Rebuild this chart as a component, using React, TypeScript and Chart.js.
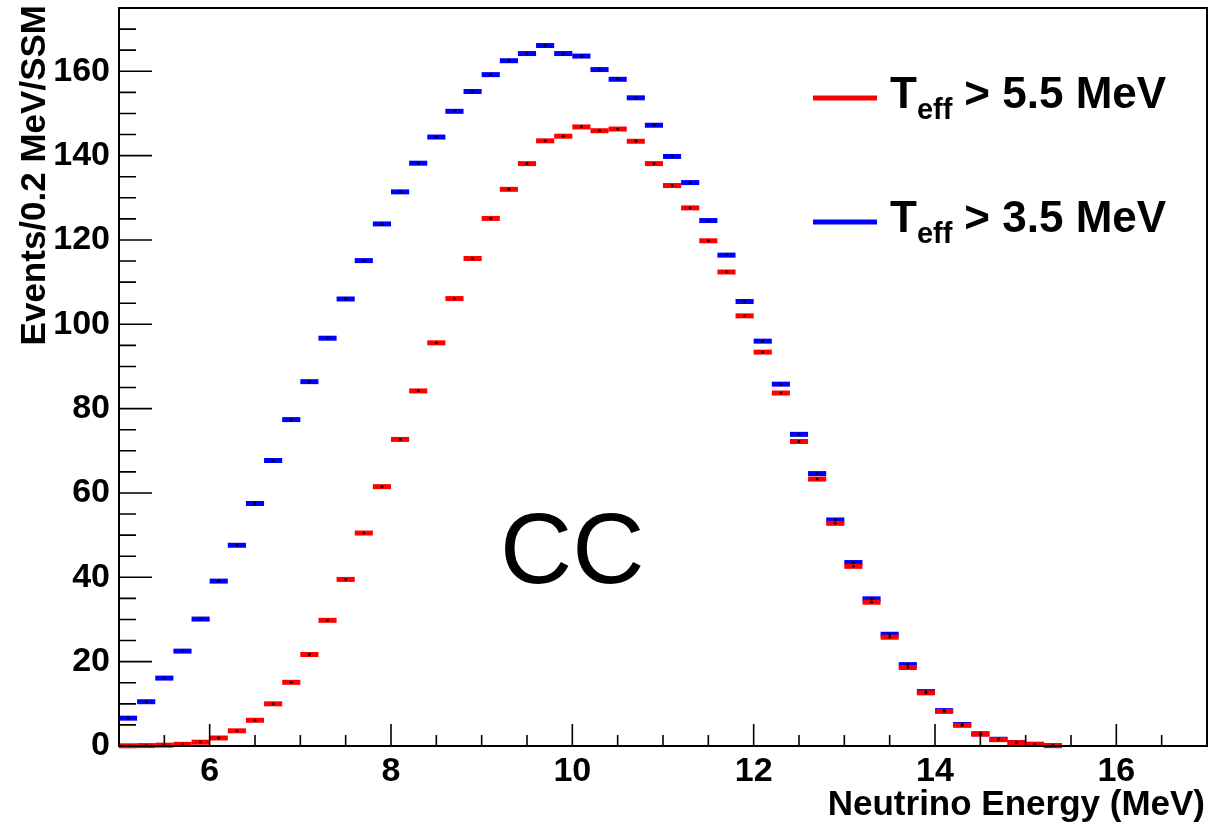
import React, { useEffect, useRef } from "react";
import { Chart, registerables } from "chart.js";

Chart.register(...registerables);

// ---- data (bin centres in MeV, bin width 0.2 MeV) ----
const energyBins = [
  5.1, 5.3, 5.5, 5.7, 5.9, 6.1, 6.3, 6.5, 6.7, 6.9,
  7.1, 7.3, 7.5, 7.7, 7.9, 8.1, 8.3, 8.5, 8.7, 8.9,
  9.1, 9.3, 9.5, 9.7, 9.9, 10.1, 10.3, 10.5, 10.7, 10.9,
  11.1, 11.3, 11.5, 11.7, 11.9, 12.1, 12.3, 12.5, 12.7, 12.9,
  13.1, 13.3, 13.5, 13.7, 13.9, 14.1, 14.3, 14.5, 14.7, 14.9,
  15.1, 15.3,
];
const binWidth = 0.2;

// T_eff > 3.5 MeV (blue)
const teff35 = [
  6.6, 10.5, 16.1, 22.5, 30.1, 39.1, 47.6, 57.5, 67.7, 77.4,
  86.4, 96.7, 106.0, 115.1, 123.8, 131.4, 138.2, 144.4, 150.5, 155.2,
  159.2, 162.5, 164.2, 166.1, 164.2, 163.6, 160.4, 158.1, 153.7, 147.2,
  139.8, 133.6, 124.6, 116.4, 105.4, 96.0, 85.8, 73.9, 64.6, 53.6,
  43.5, 34.9, 26.5, 19.3, 12.9, 8.4, 5.1, 2.9, 1.6, 0.8,
  0.4, 0.1,
];

// T_eff > 5.5 MeV (red)
const teff55 = [
  0.05, 0.1, 0.2, 0.4, 0.9, 1.9, 3.6, 6.1, 10.0, 15.1,
  21.7, 29.8, 39.5, 50.5, 61.5, 72.7, 84.2, 95.6, 106.1, 115.6,
  125.1, 132.0, 138.1, 143.5, 144.6, 146.8, 145.9, 146.3, 143.4, 138.1,
  132.9, 127.6, 119.8, 112.4, 102.0, 93.4, 83.7, 72.2, 63.3, 52.8,
  42.6, 34.1, 25.8, 18.6, 12.6, 8.2, 4.9, 2.8, 1.5, 0.8,
  0.4, 0.1,
];

const xMajorTicks = [6, 8, 10, 12, 14, 16];
const yMajorTicks = [0, 20, 40, 60, 80, 100, 120, 140, 160];
const xRange = [5, 17];
const yRange = [0, 175];
const xMinorStep = 0.5;
const yMinorStep = 5;

const seriesNames = ["> 5.5 MeV", "> 3.5 MeV"];
const xTitle = "Neutrino Energy (MeV)";
const yTitle = "Events/0.2 MeV/SSM";
const annotationText = "CC";

const RED = "#ff0000";
const BLUE = "#0000ff";
const FONT = "'Liberation Sans', Arial, Helvetica, sans-serif";

const toPoints = (ys: number[]) => energyBins.map((x, i) => ({ x, y: ys[i] }));

const halfBinPx = (ctx: any) => {
  const s = ctx.chart.scales.x;
  if (!s) return 9;
  return Math.abs(s.getPixelForValue(binWidth) - s.getPixelForValue(0)) / 2;
};

const rootPlugin = {
  id: "rootDecor",
  afterDraw(chart: any) {
    const { ctx, chartArea: a, scales } = chart;
    const xs = scales.x;
    const ys = scales.y;
    ctx.save();

    // frame
    ctx.strokeStyle = "#000";
    ctx.lineWidth = 2;
    ctx.strokeRect(a.left, a.top, a.right - a.left, a.bottom - a.top);

    // ticks (inside, left and bottom only)
    ctx.lineWidth = 1.6;
    ctx.beginPath();
    for (let v = yRange[0]; v <= yRange[1] + 1e-9; v += yMinorStep) {
      const major = yMajorTicks.indexOf(Math.round(v)) >= 0;
      const py = ys.getPixelForValue(v);
      ctx.moveTo(a.left, py);
      ctx.lineTo(a.left + (major ? 33 : 17), py);
    }
    for (let v = xRange[0] + xMinorStep; v < xRange[1] - 1e-9; v += xMinorStep) {
      const major = xMajorTicks.indexOf(v) >= 0;
      const px = xs.getPixelForValue(v);
      ctx.moveTo(px, a.bottom);
      ctx.lineTo(px, a.bottom - (major ? 22 : 11));
    }
    ctx.stroke();

    // axis titles
    ctx.fillStyle = "#000";
    ctx.font = `bold 35px ${FONT}`;
    ctx.textAlign = "right";
    ctx.textBaseline = "alphabetic";
    ctx.fillText(xTitle, a.right - 2, 815);

    ctx.save();
    ctx.translate(45, a.top - 3);
    ctx.rotate(-Math.PI / 2);
    ctx.fillText(yTitle, 0, 0);
    ctx.restore();

    // CC label
    ctx.font = `100px ${FONT}`;
    ctx.textAlign = "center";
    ctx.fillText(annotationText, xs.getPixelForValue(10.0), ys.getPixelForValue(38.7));

    // legend
    const legendColors = [RED, BLUE];
    const lineX0 = a.left + 694;
    const lineX1 = a.left + 758;
    const rowBase = [108, 232];
    seriesNames.forEach((name, i) => {
      const base = rowBase[i];
      ctx.strokeStyle = legendColors[i];
      ctx.lineWidth = 5;
      ctx.beginPath();
      ctx.moveTo(lineX0, base - 10);
      ctx.lineTo(lineX1, base - 10);
      ctx.stroke();

      ctx.fillStyle = "#000";
      ctx.textAlign = "left";
      let tx = a.left + 771;
      ctx.font = `bold 44px ${FONT}`;
      ctx.fillText("T", tx, base);
      tx += ctx.measureText("T").width;
      ctx.font = `bold 29px ${FONT}`;
      ctx.fillText("eff", tx, base + 11);
      tx += ctx.measureText("eff").width + 12;
      ctx.font = `bold 44px ${FONT}`;
      ctx.fillText(name, tx, base);
    });

    ctx.restore();
  },
};

export default function App() {
  const canvasRef = useRef<HTMLCanvasElement | null>(null);

  useEffect(() => {
    document.body.style.margin = "0";
    const canvas = canvasRef.current;
    if (!canvas) return;

    const chart = new Chart(canvas, {
      type: "scatter",
      data: {
        datasets: [
          {
            label: "dots55",
            data: toPoints(teff55),
            order: 0,
            pointStyle: "circle",
            pointRadius: 1.4,
            backgroundColor: "#000",
            borderWidth: 0,
            clip: false,
          },
          {
            label: "dots35",
            data: toPoints(teff35),
            order: 0,
            pointStyle: "circle",
            pointRadius: 1.4,
            backgroundColor: "#000",
            borderWidth: 0,
            clip: false,
          },
          {
            label: "T_eff > 5.5 MeV",
            data: toPoints(teff55),
            order: 1,
            pointStyle: "line",
            pointRadius: halfBinPx,
            borderColor: RED,
            backgroundColor: RED,
            borderWidth: 5,
            clip: false,
          },
          {
            label: "T_eff > 3.5 MeV",
            data: toPoints(teff35),
            order: 2,
            pointStyle: "line",
            pointRadius: halfBinPx,
            borderColor: BLUE,
            backgroundColor: BLUE,
            borderWidth: 5,
            clip: false,
          },
        ],
      },
      options: {
        animation: false,
        responsive: false,
        events: [],
        layout: { padding: { top: 8, right: 4, left: 0, bottom: 0 } },
        plugins: {
          legend: { display: false },
          tooltip: { enabled: false },
          title: { display: false },
        },
        scales: {
          x: {
            type: "linear",
            min: xRange[0],
            max: xRange[1],
            grid: { display: false, drawTicks: false },
            border: { display: false },
            afterBuildTicks: (s: any) => {
              s.ticks = xMajorTicks.map((v) => ({ value: v }));
            },
            afterFit: (s: any) => {
              s.height = 83;
              s.paddingLeft = 0;
              s.paddingRight = 0;
            },
            ticks: {
              color: "#000",
              font: { family: FONT, size: 34, weight: "bold" },
              padding: 5,
              maxRotation: 0,
              autoSkip: false,
            },
          },
          y: {
            type: "linear",
            min: yRange[0],
            max: yRange[1],
            grid: { display: false, drawTicks: false },
            border: { display: false },
            afterBuildTicks: (s: any) => {
              s.ticks = yMajorTicks.map((v) => ({ value: v }));
            },
            afterFit: (s: any) => {
              s.width = 119;
              s.paddingTop = 0;
              s.paddingBottom = 0;
            },
            ticks: {
              color: "#000",
              font: { family: FONT, size: 34, weight: "bold" },
              padding: 9,
              autoSkip: false,
            },
          },
        },
      },
      plugins: [rootPlugin],
    } as any);

    return () => chart.destroy();
  }, []);

  return (
    <div style={{ width: 1211, height: 829, background: "#fff" }}>
      <canvas ref={canvasRef} width={1211} height={829} />
    </div>
  );
}
